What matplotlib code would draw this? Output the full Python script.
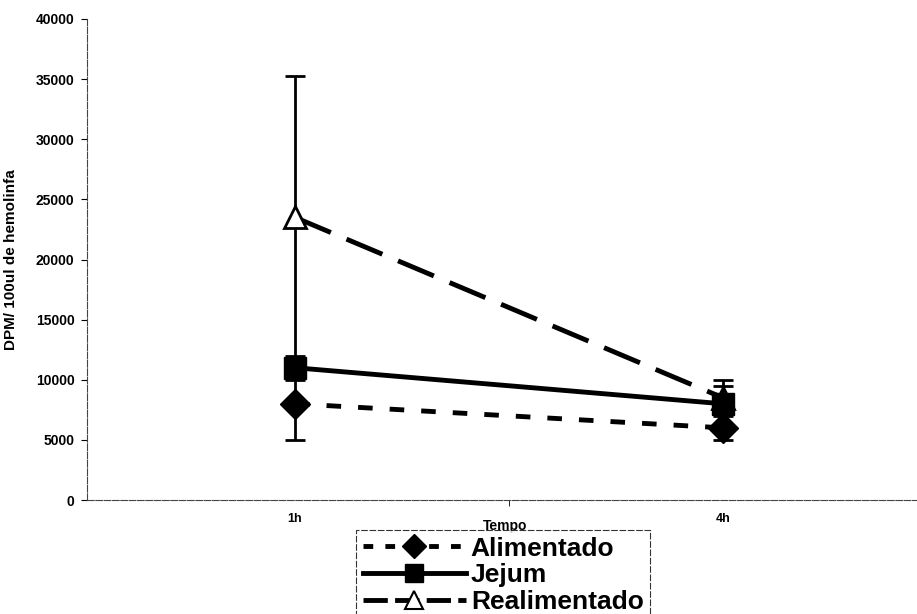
import matplotlib
matplotlib.use("Agg")
import matplotlib.pyplot as plt
from matplotlib.lines import Line2D

plt.rcParams['font.family'] = ['Liberation Sans', 'DejaVu Sans']

categories = ["1h", "4h"]
alimentado = [8000, 6000]
alimentado_err = [3000, 1000]
jejum = [11000, 8000]
jejum_err = [1000, 2000]
realimentado = [23500, 8500]
realimentado_err = [11800, 1000]
yticks = [0, 5000, 10000, 15000, 20000, 25000, 30000, 35000, 40000]

fig = plt.figure(figsize=(9.17, 6.14), dpi=100)
W, H = 917, 614
x0, x1 = 87, 917
y0, y1 = 500, 19
ax = fig.add_axes([x0 / W, 1 - y0 / H, (x1 - x0) / W, (y0 - y1) / H])

x = [1, 2]
common = dict(color='black', ecolor='black', elinewidth=2, capsize=7, capthick=2, lw=3.5)
ax.errorbar(x, realimentado, yerr=realimentado_err, linestyle=(0, (8, 3.5)),
            marker='^', markersize=16, markerfacecolor='white', markeredgecolor='black',
            markeredgewidth=2, zorder=3, **common)
ax.errorbar(x, jejum, yerr=jejum_err, linestyle='-', marker='s', markersize=16,
            markerfacecolor='black', zorder=4, **common)
ax.errorbar(x, alimentado, yerr=alimentado_err, linestyle=(0, (3, 3.5)), marker='D',
            markersize=15, markerfacecolor='black', zorder=5, **common)

left = 1 - (295 - x0) / 428
ax.set_xlim(left, left + (x1 - x0) / 428)
ax.set_ylim(0, 40000)
ax.set_yticks(yticks)
ax.set_yticklabels([str(v) for v in yticks], fontsize=10, fontweight='bold')
ax.set_xticks(x)
ax.set_xticklabels(categories, fontsize=9, fontweight='bold')
ax.tick_params(axis='x', length=0, pad=9)
ax.set_xticks([1.5], minor=True)
ax.tick_params(axis='x', which='minor', length=4, direction='out')
ax.tick_params(axis='y', length=4, direction='out', pad=5)

for s in ['top', 'right']:
    ax.spines[s].set_visible(False)
for s in ['left', 'bottom']:
    ax.spines[s].set_linewidth(0.8)
    ax.spines[s].set_linestyle((0, (6, 1.5)))
    ax.spines[s].set_color('#444444')

ax.set_ylabel("DPM/ 100ul de hemolinfa", fontsize=11, fontweight='bold')
ax.yaxis.set_label_coords(-(87 - 18) / (x1 - x0), 0.5)
ax.set_xlabel("Tempo", fontsize=10, fontweight='bold')
ax.xaxis.set_label_coords((505 - x0) / (x1 - x0), -(519 - y0) / (y0 - y1))

handles = [
    Line2D([], [], color='black', lw=3.5, linestyle=(0, (2, 2.5)), marker='D',
           markersize=12, markerfacecolor='black'),
    Line2D([], [], color='black', lw=3.5, linestyle='-', marker='s',
           markersize=13, markerfacecolor='black'),
    Line2D([], [], color='black', lw=3.5, linestyle=(0, (5, 1.5)), marker='^',
           markersize=13, markerfacecolor='white', markeredgewidth=1.5),
]
leg = fig.legend(handles, ["Alimentado", "Jejum", "Realimentado"],
                 loc='upper left', bbox_to_anchor=(356 / W, 1 - 530 / H),
                 prop={'size': 19, 'weight': 'bold'}, frameon=True, fancybox=False,
                 handlelength=3.9, handletextpad=0.2, labelspacing=0.1,
                 borderpad=0.25, borderaxespad=0)
leg.get_frame().set_edgecolor('black')
leg.get_frame().set_linewidth(0.8)
leg.get_frame().set_linestyle((0, (6, 1.5)))

fig.savefig("out.png", dpi=100)
